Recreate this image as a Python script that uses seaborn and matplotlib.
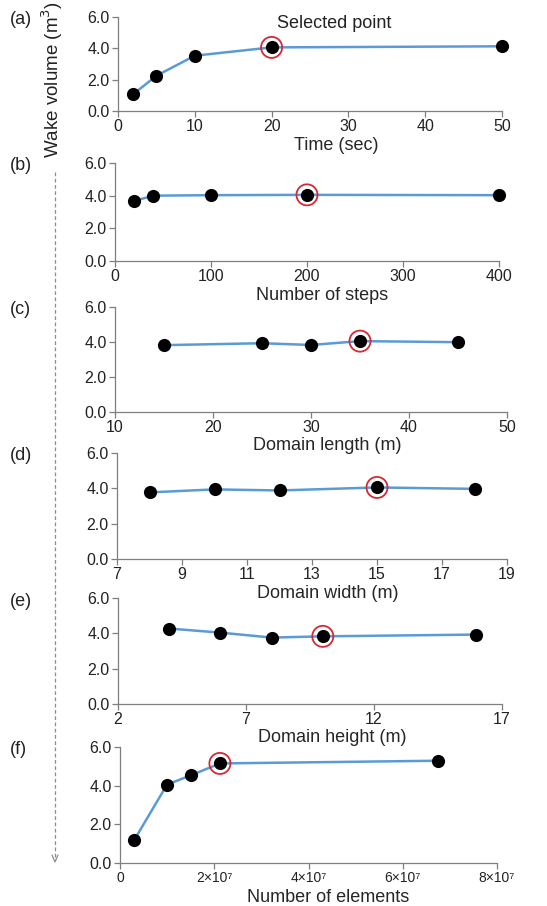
import matplotlib

matplotlib.use("Agg")
import matplotlib.pyplot as plt
from matplotlib.lines import Line2D
import pandas as pd
import seaborn as sns

# panel data
TIME_SEC = [2, 5, 10, 20, 50]
TIME_VOL = [1.08, 2.25, 3.53, 4.06, 4.13]

STEPS = [20, 40, 100, 200, 400]
STEPS_VOL = [3.68, 4.00, 4.03, 4.05, 4.03]

LENGTH_M = [15, 25, 30, 35, 45]
LENGTH_VOL = [3.82, 3.93, 3.83, 4.05, 3.99]

WIDTH_M = [8, 10, 12, 15, 18]
WIDTH_VOL = [3.77, 3.94, 3.88, 4.05, 3.97]

HEIGHT_M = [4, 6, 8, 10, 16]
HEIGHT_VOL = [4.27, 4.04, 3.76, 3.83, 3.93]

ELEMENTS = [3.0e6, 1.0e7, 1.5e7, 2.12e7, 6.74e7]
ELEMENTS_VOL = [1.18, 4.06, 4.53, 5.15, 5.29]

SELECTED = [20, 200, 35, 15, 10, 2.12e7]

X_LABELS = ["Time (sec)", "Number of steps", "Domain length (m)",
            "Domain width (m)", "Domain height (m)", "Number of elements"]
PANEL_TAGS = ["(a)", "(b)", "(c)", "(d)", "(e)", "(f)"]
X_TICKS = [
    [0, 10, 20, 30, 40, 50],
    [0, 100, 200, 300, 400],
    [10, 20, 30, 40, 50],
    [7, 9, 11, 13, 15, 17, 19],
    [2, 7, 12, 17],
    [0, 2e7, 4e7, 6e7, 8e7],
]
X_TICK_LABELS_F = ["0", "2×10⁷", "4×10⁷", "6×10⁷", "8×10⁷"]
Y_TICKS = [0, 2, 4, 6]

# axes boxes in pixels: left, top, right, bottom
BOXES = [
    (118, 17, 502, 111),
    (115, 163, 499, 261),
    (115, 307, 507, 412),
    (117, 453, 507, 559),
    (118, 598, 502, 704),
    (120, 747, 497, 863),
]
# x-label centre, pixels from the left edge of the figure
XLABEL_X = [336, 322, 327, 328, 332, 328]

W, H = 547, 906
LINE_COLOR = "#5b9bd5"
RING_COLOR = "#d42a35"

sns.set_style("ticks")
plt.rcParams["font.family"] = ["Liberation Sans", "DejaVu Sans"]

xs_all = [TIME_SEC, STEPS, LENGTH_M, WIDTH_M, HEIGHT_M, ELEMENTS]
ys_all = [TIME_VOL, STEPS_VOL, LENGTH_VOL, WIDTH_VOL, HEIGHT_VOL, ELEMENTS_VOL]

fig = plt.figure(figsize=(W / 100, H / 100), dpi=100)

for i, (xs, ys) in enumerate(zip(xs_all, ys_all)):
    l, t, r, b = BOXES[i]
    ax = fig.add_axes([l / W, 1 - b / H, (r - l) / W, (b - t) / H])
    ax.patch.set_alpha(0)
    df = pd.DataFrame({"x": xs, "y": ys})
    sns.lineplot(data=df, x="x", y="y", color=LINE_COLOR, linewidth=1.8, ax=ax, zorder=2)
    sns.scatterplot(data=df, x="x", y="y", color="black", s=90, edgecolor="black",
                    linewidth=0, ax=ax, zorder=3, clip_on=False)
    sel = df[df["x"] == SELECTED[i]]
    sns.scatterplot(data=sel, x="x", y="y", s=230, facecolor="none", edgecolor=RING_COLOR,
                    linewidth=1.3, ax=ax, zorder=4, clip_on=False)

    ticks = X_TICKS[i]
    ax.set_xlim(ticks[0], ticks[-1])
    ax.set_ylim(0, 6)
    ax.set_xticks(ticks)
    if i == 5:
        ax.set_xticklabels(X_TICK_LABELS_F, fontsize=10)
    else:
        ax.set_xticklabels([str(v) for v in ticks], fontsize=11.5)
    ax.set_yticks(Y_TICKS)
    ax.set_yticklabels([f"{v:.1f}" for v in Y_TICKS], fontsize=11.5)
    ax.set_xlabel(X_LABELS[i], fontsize=13, va="center")
    ax.xaxis.set_label_coords((XLABEL_X[i] - l) / (r - l), -34 / (b - t))
    ax.set_ylabel("")
    for side in ("top", "right"):
        ax.spines[side].set_visible(False)
    for side in ("left", "bottom"):
        ax.spines[side].set_color("#7f7f7f")
        ax.spines[side].set_linewidth(0.9)
    ax.tick_params(colors="#7f7f7f", labelcolor="#222222", length=4, width=0.9, pad=2)

    fig.text(10 / W, 1 - (t + 3) / H, PANEL_TAGS[i], fontsize=13, color="#222222",
             ha="left", va="center")

    if i == 0:
        ax.text(20.7, 5.6, "Selected point", fontsize=13, color="#222222",
                ha="left", va="center")

fig.text(52 / W, 1 - 80 / H, "Wake volume (m$^3$)", fontsize=13.5, color="#222222",
         rotation=90, ha="center", va="center")

# dashed guide arrow down the left side
x_arrow = 55 / W
fig.add_artist(Line2D([x_arrow, x_arrow], [1 - 172 / H, 1 - 860 / H],
                      transform=fig.transFigure, color="#8c8c8c",
                      linestyle=(0, (3, 2)), linewidth=0.9))
fig.add_artist(Line2D([x_arrow - 3 / W, x_arrow, x_arrow + 3 / W],
                      [1 - 855 / H, 1 - 862 / H, 1 - 855 / H],
                      transform=fig.transFigure, color="#8c8c8c", linewidth=0.9))

fig.savefig("out.png", dpi=100, facecolor="white")
